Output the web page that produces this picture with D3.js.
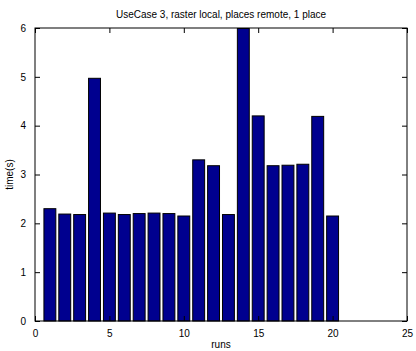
<!DOCTYPE html>
<html>
<head>
<meta charset="utf-8">
<script src="https://cdn.jsdelivr.net/npm/d3@7"></script>
<style>
  body { margin: 0; background: #fff; }
  text { font-family: "Liberation Sans", Arial, sans-serif; font-size: 10px; fill: #000; }
</style>
</head>
<body>
<div class="graphic"></div>
<script>
// data
var runs = [1, 2, 3, 4, 5, 6, 7, 8, 9, 10, 11, 12, 13, 14, 15, 16, 17, 18, 19, 20];
var times = [2.30, 2.19, 2.18, 4.97, 2.21, 2.18, 2.20, 2.21, 2.20, 2.15,
             3.30, 3.18, 2.18, 5.99, 4.20, 3.18, 3.19, 3.21, 4.19, 2.15];
var xTicks = [0, 5, 10, 15, 20, 25];
var yTicks = [0, 1, 2, 3, 4, 5, 6];
var title = "UseCase 3, raster local, places remote, 1 place";

var W = 416, H = 351;
var margin = {top: 28, right: 9, bottom: 30, left: 35},
    width = W - margin.left - margin.right,
    height = H - margin.top - margin.bottom;

var svg = d3.select(".graphic").append("svg")
    .attr("width", W)
    .attr("height", H);

var g = svg.append("g")
    .attr("transform", "translate(" + margin.left + "," + margin.top + ")");

var x = d3.scaleLinear().domain([0, 25]).range([0, width]);
var y = d3.scaleLinear().domain([0, 6]).range([height, 0]);
var barW = x(0.8) - x(0);

// bars
g.selectAll("rect.bar")
    .data(runs)
    .enter().append("rect")
    .attr("class", "bar")
    .attr("x", function(d) { return x(d) - barW / 2; })
    .attr("y", function(d, i) { return y(times[i]); })
    .attr("width", barW)
    .attr("height", function(d, i) { return y(0) - y(times[i]); })
    .attr("fill", "#00008f")
    .attr("stroke", "#000")
    .attr("stroke-width", 1);

// frame
g.append("rect")
    .attr("width", width)
    .attr("height", height)
    .attr("fill", "none")
    .attr("stroke", "#000")
    .attr("stroke-width", 1);

// axes, ticks pointing inward like matlab
var tk = 5;
var fmt = d3.format("d");
g.append("g")
    .attr("transform", "translate(0," + height + ")")
    .call(d3.axisBottom(x).tickValues(xTicks).tickSizeInner(-tk).tickSizeOuter(0).tickPadding(tk + 4).tickFormat(fmt))
    .call(function(a) { a.select(".domain").remove(); });
g.append("g")
    .call(d3.axisTop(x).tickValues(xTicks).tickSizeInner(-tk).tickSizeOuter(0).tickFormat(""))
    .call(function(a) { a.select(".domain").remove(); });
g.append("g")
    .call(d3.axisLeft(y).tickValues(yTicks).tickSizeInner(-tk).tickSizeOuter(0).tickPadding(tk + 4).tickFormat(fmt))
    .call(function(a) { a.select(".domain").remove(); });
g.append("g")
    .attr("transform", "translate(" + width + ",0)")
    .call(d3.axisRight(y).tickValues(yTicks).tickSizeInner(-tk).tickSizeOuter(0).tickFormat(""))
    .call(function(a) { a.select(".domain").remove(); });

svg.selectAll(".tick text").style("font-family", "Liberation Sans, Arial, sans-serif").style("font-size", "10px");
svg.selectAll(".tick line").attr("stroke", "#000");

// labels
svg.append("text")
    .attr("x", margin.left + width / 2)
    .attr("y", 18)
    .attr("text-anchor", "middle")
    .text(title);

svg.append("text")
    .attr("x", margin.left + width / 2)
    .attr("y", 348)
    .attr("text-anchor", "middle")
    .text("runs");

svg.append("text")
    .attr("transform", "translate(13," + (margin.top + height / 2) + ") rotate(-90)")
    .attr("text-anchor", "middle")
    .text("time(s)");
</script>
</body>
</html>
